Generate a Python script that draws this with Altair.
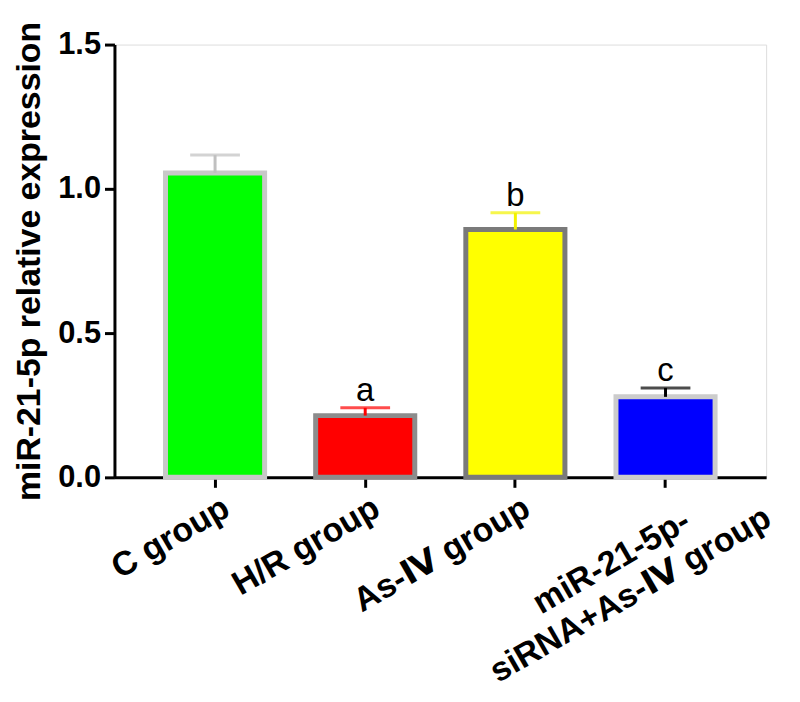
import altair as alt
import pandas as pd

# ---- data ----
categories = ["C group", "H/R group", "As-Ⅳ group", "miR-21-5p-\nsiRNA+As-Ⅳ group"]
means = [1.055, 0.214, 0.859, 0.279]
errors = [0.062, 0.027, 0.058, 0.031]
letters = ["", "a", "b", "c"]
y_ticks = [0.0, 0.5, 1.0, 1.5]

# ---- styles ----
fill_colors = ["#00ff00", "#ff0000", "#ffff00", "#0000ff"]
stroke_colors = ["#c8c8c8", "#8c8c8c", "#7a7a7a", "#cccccc"]
err_colors = ["#c0c0c0", "#ff0000", "#f2f200", "#000000"]
FONT = "Liberation Sans, Arial, DejaVu Sans"
IS_LAST = "indexof(datum.label, 'siRNA') >= 0"

df = pd.DataFrame({"group": categories, "mean": means, "err": errors, "letter": letters})

x_axis = alt.Axis(
    title=None,
    labelAngle=-30,
    labelFont=FONT,
    labelFontSize=34,
    labelFontWeight="bold",
    labelColor="#000000",
    labelExpr="split(datum.label, '\\n')",
    labelAlign={"condition": {"test": IS_LAST, "value": "center"}, "value": "right"},
    labelBaseline="middle",
    labelPadding={"condition": {"test": IS_LAST, "value": 75}, "value": 18},
    labelOffset={"condition": {"test": IS_LAST, "value": -54}, "value": 12},
    labelLimit=0,
    labelOverlap=False,
    labelBound=False,
    labelLineHeight=38,
    tickSize=10,
    tickWidth=3,
    tickColor="#000000",
    domainWidth=3,
    domainColor="#000000",
)

y_axis = alt.Axis(
    title="miR-21-5p relative expression",
    titleFont=FONT,
    titleFontSize=34,
    titleFontWeight="bold",
    titleColor="#000000",
    titlePadding=11,
    values=y_ticks,
    format=".1f",
    labelFont=FONT,
    labelFontSize=31,
    labelFontWeight="bold",
    labelColor="#000000",
    labelPadding=4,
    tickSize=10,
    tickWidth=3,
    tickColor="#000000",
    domainWidth=3,
    domainColor="#000000",
    grid=False,
)

x_enc = alt.X("group:N", sort=categories,
              scale=alt.Scale(paddingInner=0.34, paddingOuter=0.34), axis=x_axis)
y_scale = alt.Scale(domain=[0, 1.5], nice=False, zero=True)

base = alt.Chart(df)

bars = base.mark_bar(strokeWidth=5).encode(
    x=x_enc,
    y=alt.Y("mean:Q", scale=y_scale, axis=y_axis),
    color=alt.Color("group:N", sort=categories,
                    scale=alt.Scale(domain=categories, range=fill_colors), legend=None),
    stroke=alt.Stroke("group:N", sort=categories,
                      scale=alt.Scale(domain=categories, range=stroke_colors), legend=None),
)

err_base = base.transform_calculate(upper="datum.mean + datum.err")

err_rule = err_base.mark_rule(strokeWidth=3).encode(
    x=alt.X("group:N", sort=categories),
    y=alt.Y("mean:Q"),
    y2="upper:Q",
    color=alt.Color("group:N", sort=categories,
                    scale=alt.Scale(domain=categories, range=err_colors), legend=None),
)

err_cap = err_base.mark_tick(size=50, thickness=3).encode(
    x=alt.X("group:N", sort=categories),
    y=alt.Y("upper:Q"),
    color=alt.Color("group:N", sort=categories,
                    scale=alt.Scale(domain=categories, range=err_colors), legend=None),
)

labels = err_base.mark_text(font=FONT, fontSize=33, baseline="alphabetic", dy=-7,
                            color="#000000").encode(
    x=alt.X("group:N", sort=categories),
    y=alt.Y("upper:Q"),
    text="letter:N",
)

errs = alt.layer(err_rule, err_cap, labels)

chart = alt.layer(bars, errs).resolve_scale(
    color="independent", stroke="independent"
).properties(
    width=655,
    height=435,
    autosize=alt.AutoSizeParams(type="none"),
    padding={"left": 107, "top": 35, "right": 26, "bottom": 218},
).configure_view(stroke=None).configure(background="#ffffff")

chart.save("out.html", embed_options={"renderer": "svg", "actions": False})
